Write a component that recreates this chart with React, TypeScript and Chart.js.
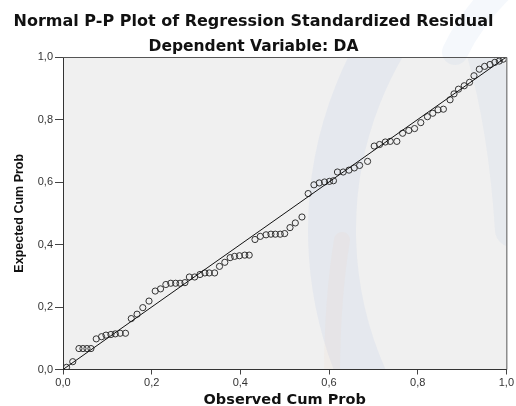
import React, { useEffect, useRef } from "react";
import { Chart, registerables } from "chart.js";

Chart.register(...registerables);

const titleText = "Normal P-P Plot of Regression Standardized Residual";
const subtitleText = "Dependent Variable: DA";
const xAxisTitle = "Observed Cum Prob";
const yAxisTitle = "Expected Cum Prob";
const tickLabels = ["0,0", "0,2", "0,4", "0,6", "0,8", "1,0"];

const observedCumProb = [
  0.008, 0.022, 0.036, 0.045, 0.054, 0.063, 0.075, 0.087, 0.097, 0.108,
  0.118, 0.129, 0.141, 0.154, 0.167, 0.18, 0.194, 0.208, 0.22, 0.232,
  0.243, 0.254, 0.264, 0.275, 0.285, 0.297, 0.309, 0.32, 0.33, 0.342,
  0.353, 0.365, 0.377, 0.387, 0.398, 0.41, 0.42, 0.433, 0.445, 0.458,
  0.469, 0.479, 0.49, 0.5, 0.512, 0.524, 0.539, 0.553, 0.566, 0.578,
  0.59, 0.601, 0.61, 0.619, 0.632, 0.645, 0.657, 0.669, 0.687, 0.702,
  0.714, 0.727, 0.738, 0.753, 0.766, 0.78, 0.793, 0.807, 0.822, 0.834,
  0.846, 0.858, 0.873, 0.882, 0.892, 0.905, 0.917, 0.927, 0.939, 0.951,
  0.963, 0.974, 0.984, 0.993,
];

const expectedCumProb = [
  0.007, 0.025, 0.067, 0.067, 0.067, 0.067, 0.098, 0.105, 0.11, 0.112,
  0.114, 0.116, 0.116, 0.163, 0.177, 0.198, 0.219, 0.251, 0.258, 0.272,
  0.276, 0.276, 0.276, 0.278, 0.296, 0.296, 0.304, 0.309, 0.309, 0.309,
  0.33, 0.343, 0.358, 0.362, 0.364, 0.366, 0.366, 0.416, 0.426, 0.431,
  0.433, 0.433, 0.433, 0.435, 0.454, 0.469, 0.488, 0.563, 0.591, 0.597,
  0.6, 0.602, 0.604, 0.632, 0.632, 0.638, 0.645, 0.653, 0.666, 0.715,
  0.72, 0.728, 0.73, 0.73, 0.756, 0.765, 0.771, 0.79, 0.809, 0.82,
  0.831, 0.833, 0.863, 0.882, 0.897, 0.908, 0.919, 0.94, 0.961, 0.97,
  0.976, 0.983, 0.987, 0.993,
];

const referenceLine = [
  { x: 0, y: 0 },
  { x: 1, y: 1 },
];

const backgroundPlugin = {
  id: "ppBackground",
  beforeDraw(chart: any) {
    const { ctx, chartArea, width, height } = chart;
    const w = chartArea.right - chartArea.left;
    const h = chartArea.bottom - chartArea.top;
    ctx.save();
    ctx.fillStyle = "#ffffff";
    ctx.fillRect(0, 0, width, height);
    ctx.fillStyle = "#f0f0f0";
    ctx.fillRect(chartArea.left, chartArea.top, w, h);

    // faint watermark swooshes, kept inside the plot
    ctx.save();
    ctx.beginPath();
    ctx.rect(chartArea.left, chartArea.top, w, h);
    ctx.clip();
    ctx.lineCap = "round";
    ctx.strokeStyle = "rgba(175,195,230,0.16)";
    ctx.lineWidth = 48;
    ctx.beginPath();
    ctx.arc(700, 230, 368, Math.PI * 0.74, Math.PI * 1.26);
    ctx.stroke();
    ctx.strokeStyle = "rgba(175,195,230,0.14)";
    ctx.lineWidth = 34;
    ctx.beginPath();
    ctx.moveTo(480, 40);
    ctx.quadraticCurveTo(505, 120, 512, 230);
    ctx.stroke();
    ctx.strokeStyle = "rgba(240,190,150,0.08)";
    ctx.lineWidth = 16;
    ctx.beginPath();
    ctx.moveTo(342, 240);
    ctx.quadraticCurveTo(332, 300, 332, 380);
    ctx.stroke();
    ctx.restore();

    ctx.lineCap = "round";
    ctx.strokeStyle = "rgba(175,195,230,0.12)";
    ctx.lineWidth = 26;
    ctx.beginPath();
    ctx.moveTo(500, -10);
    ctx.quadraticCurveTo(470, 20, 455, 52);
    ctx.stroke();
    ctx.restore();
  },
  afterDraw(chart: any) {
    const { ctx, chartArea } = chart;
    ctx.save();
    ctx.strokeStyle = "#555555";
    ctx.lineWidth = 1;
    ctx.beginPath();
    ctx.moveTo(chartArea.left, chartArea.top + 0.5);
    ctx.lineTo(chartArea.right + 0.5, chartArea.top + 0.5);
    ctx.lineTo(chartArea.right + 0.5, chartArea.bottom);
    ctx.stroke();
    ctx.restore();
  },
};

export default function App() {
  const canvasRef = useRef<HTMLCanvasElement | null>(null);

  useEffect(() => {
    const canvas = canvasRef.current;
    if (!canvas) return;
    const points = observedCumProb.map((x, i) => ({ x, y: expectedCumProb[i] }));
    const chart = new Chart(canvas, {
      type: "scatter",
      data: {
        datasets: [
          {
            type: "line",
            data: referenceLine,
            borderColor: "#111111",
            borderWidth: 1,
            pointRadius: 0,
            fill: false,
          },
          {
            type: "scatter",
            data: points,
            pointStyle: "circle",
            pointRadius: 3.1,
            pointBorderWidth: 1,
            pointBorderColor: "#333333",
            pointBackgroundColor: "rgba(0,0,0,0)",
            borderColor: "#333333",
            backgroundColor: "rgba(0,0,0,0)",
          },
        ],
      },
      options: {
        animation: false,
        responsive: false,
        layout: { padding: { left: 0, right: 9, top: 0, bottom: 0 } },
        plugins: {
          legend: { display: false },
          tooltip: { enabled: false },
          title: {
            display: true,
            text: titleText,
            color: "#111111",
            font: { family: "DejaVu Sans", weight: "bold", size: 16, lineHeight: 1.2 },
            padding: { top: 12.0, bottom: 0 },
          },
          subtitle: {
            display: true,
            text: subtitleText,
            color: "#111111",
            font: { family: "DejaVu Sans", weight: "bold", size: 15.5, lineHeight: 1.2 },
            padding: { top: 6.2, bottom: 1.0 },
          },
        },
        scales: {
          x: {
            type: "linear",
            min: 0,
            max: 1,
            ticks: {
              stepSize: 0.2,
              color: "#333333",
              padding: 2,
              font: { family: "Liberation Sans", size: 11 },
              callback: (_v: any, i: number) => tickLabels[i],
            },
            grid: {
              drawOnChartArea: false,
              drawTicks: true,
              tickLength: 5,
              color: "#444444",
            },
            border: { display: true, color: "#333333", width: 1 },
            title: {
              display: true,
              text: xAxisTitle,
              color: "#111111",
              font: { family: "DejaVu Sans", weight: "bold", size: 14.5, lineHeight: 0.8 },
              padding: { top: 0, bottom: 0 },
            },
            afterFit: (scale: any) => {
              scale.height = 36.5;
            },
          },
          y: {
            type: "linear",
            min: 0,
            max: 1,
            ticks: {
              stepSize: 0.2,
              color: "#333333",
              padding: 2,
              font: { family: "Liberation Sans", size: 11 },
              callback: (_v: any, i: number) => tickLabels[i],
            },
            grid: {
              drawOnChartArea: false,
              drawTicks: true,
              tickLength: 8,
              color: "#444444",
            },
            border: { display: true, color: "#333333", width: 1 },
            title: {
              display: true,
              text: yAxisTitle,
              color: "#111111",
              font: { family: "Liberation Sans", weight: "bold", size: 12.5, lineHeight: 1 },
              padding: { top: 13, bottom: 0 },
            },
            afterFit: (scale: any) => {
              scale.width = 63;
            },
          },
        },
      },
      plugins: [backgroundPlugin],
    });
    return () => chart.destroy();
  }, []);

  return (
    <div style={{ position: "fixed", left: 0, top: 0, width: 516, height: 406, background: "#ffffff" }}>
      <canvas ref={canvasRef} width={516} height={406} style={{ display: "block", width: 516, height: 406 }} />
    </div>
  );
}
